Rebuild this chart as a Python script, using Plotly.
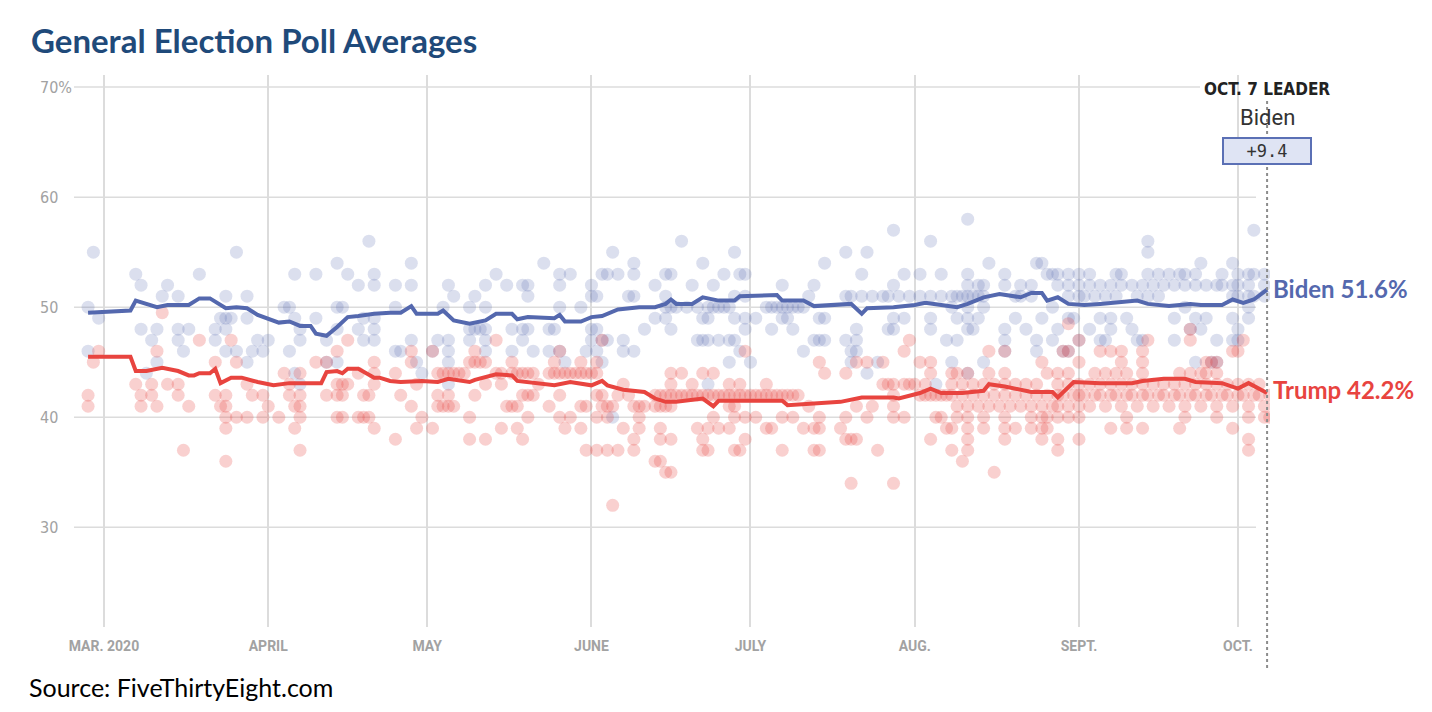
import numpy as np
import pandas as pd
import plotly.graph_objects as go

# ---------------- DATA ----------------
# days are counted from 2020-03-01 (day 0); values are percentages
base_date = "2020-03-01"
month_ticks = ["2020-03-01", "2020-04-01", "2020-05-01", "2020-06-01",
               "2020-07-01", "2020-08-01", "2020-09-01", "2020-10-01"]
month_labels = ["MAR. 2020", "APRIL", "MAY", "JUNE", "JULY", "AUG.", "SEPT.", "OCT."]
y_ticks = [70, 60, 50, 40, 30]
y_labels = ["70%", "60", "50", "40", "30"]

biden_avg_days = [-3, 5, 6, 10, 12, 16, 18, 20, 23, 25, 27, 29, 33, 35, 37, 39, 40, 42, 44, 46,
                  48, 51, 54, 56, 58, 59, 63, 64, 66, 69, 72, 74, 77, 78, 80, 85, 86, 87, 90, 92,
                  94, 97, 101, 104, 106, 107, 108, 111, 113, 116, 119, 120, 127, 128, 132, 134,
                  141, 143, 144, 149, 153, 155, 158, 161, 163, 166, 169, 173, 175, 177, 178, 180,
                  182, 185, 188, 195, 197, 201, 205, 207, 211, 213, 215, 217, 219.5]
biden_avg = [49.5, 49.7, 50.6, 50.0, 50.2, 50.2, 50.8, 50.8, 49.9, 50.0, 49.9, 49.3, 48.6, 48.7,
             48.3, 48.3, 47.6, 47.4, 48.2, 49.1, 49.2, 49.4, 49.5, 49.5, 50.1, 49.4, 49.4, 49.7,
             48.8, 48.5, 48.8, 49.4, 49.4, 48.9, 49.1, 49.0, 49.3, 48.7, 48.7, 49.1, 49.2, 49.8,
             50.0, 50.0, 50.3, 50.7, 50.3, 50.3, 50.9, 50.6, 50.6, 51.0, 51.1, 50.6, 50.6, 50.1,
             50.3, 49.4, 49.9, 50.0, 50.2, 50.4, 50.2, 50.0, 50.3, 50.9, 51.2, 50.9, 51.3, 51.3,
             50.6, 50.9, 50.3, 50.2, 50.3, 50.6, 50.3, 50.1, 50.3, 50.2, 50.2, 50.7, 50.4, 50.7,
             51.6]

trump_avg_days = [-3, 5, 6, 8, 11, 12, 14, 16, 17, 18, 20, 21, 22, 24, 26, 29, 32, 35, 37, 41,
                  42, 44, 45, 46, 48, 51, 52, 54, 56, 60, 63, 65, 69, 70, 74, 77, 78, 82, 85, 88,
                  92, 94, 95, 98, 102, 104, 106, 108, 113, 115, 116, 121, 128, 129, 133, 139, 143,
                  149, 150, 154, 156, 158, 162, 166, 167, 170, 175, 179, 180, 181, 183, 188, 194,
                  196, 200, 204, 206, 211, 214, 216, 219.5]
trump_avg = [45.5, 45.5, 44.2, 44.2, 44.5, 44.4, 44.2, 43.8, 43.8, 44.0, 44.0, 44.4, 43.1, 43.6,
             43.6, 43.2, 42.9, 43.1, 43.1, 43.1, 44.1, 44.2, 44.0, 44.4, 44.4, 43.6, 43.6, 43.3,
             43.2, 43.3, 43.2, 43.5, 43.2, 43.4, 43.9, 43.8, 43.3, 43.1, 42.9, 43.2, 42.9, 43.3,
             42.9, 42.5, 42.3, 41.7, 41.4, 41.4, 41.7, 41.0, 41.5, 41.5, 41.5, 41.1, 41.2, 41.4,
             41.8, 41.8, 41.7, 42.2, 42.6, 42.2, 42.2, 42.4, 43.0, 42.8, 42.3, 42.3, 41.8, 42.3,
             43.2, 43.1, 43.1, 43.3, 43.5, 43.5, 43.2, 43.1, 42.6, 43.1, 42.2]

# individual polls: percentage -> list of days
biden_polls = {
    58: [163],
    57: [149, 217],
    56: [50, 109, 156, 197],
    55: [-2, 25, 96, 119, 140, 144, 197],
    54: [44, 58, 83, 100, 113, 136, 167, 176, 177, 207, 213],
    53: [6, 18, 36, 40, 46, 51, 74, 86, 88, 94, 95, 97, 100, 106, 107, 117, 120, 121, 143, 151,
         154, 158, 163, 170, 178, 179, 180, 182, 184, 186, 191, 192, 197, 199, 201, 203, 204,
         206, 211, 214, 216, 217, 219],
    52: [7, 12, 48, 51, 55, 58, 65, 72, 76, 79, 80, 86, 92, 104, 111, 115, 128, 134, 149, 163,
         165, 166, 170, 173, 175, 180, 182, 184, 186, 188, 190, 192, 194, 196, 198, 200, 202,
         204, 206, 208, 210, 211, 213, 214, 216, 219],
    51: [11, 14, 23, 27, 66, 70, 80, 92, 93, 99, 100, 106, 119, 121, 133, 140, 141, 143, 145,
         147, 148, 150, 152, 154, 156, 158, 160, 161, 162, 163, 164, 165, 166, 172, 173, 175,
         182, 184, 185, 187, 189, 191, 195, 197, 199, 213, 214, 216, 217, 219],
    50: [-3, 34, 35, 44, 45, 55, 64, 69, 72, 86, 90, 106, 107, 108, 110, 112, 114, 115, 116, 117,
         118, 125, 126, 127, 128, 129, 130, 131, 132, 160, 163, 166, 179, 204, 216],
    49: [-1, 22, 23, 24, 27, 36, 40, 49, 51, 104, 106, 113, 114, 119, 121, 123, 128, 129, 135,
         136, 149, 151, 156, 161, 163, 165, 172, 177, 182, 183, 188, 190, 193, 202, 206, 208,
         213, 216],
    48: [7, 10, 14, 16, 21, 23, 37, 44, 48, 51, 69, 70, 71, 72, 77, 79, 80, 84, 85, 92, 93, 102,
         107, 121, 126, 130, 142, 148, 149, 156, 163, 164, 170, 174, 180, 186, 190, 194, 205,
         207, 214],
    47: [9, 14, 21, 29, 31, 37, 42, 49, 51, 58, 63, 65, 69, 72, 79, 92, 94, 95, 98, 112, 113,
         114, 116, 118, 119, 134, 135, 136, 140, 142, 159, 161, 170, 176, 179, 184, 188, 189,
         195, 196, 202, 210, 213, 214],
    46: [-3, 15, 23, 25, 28, 30, 35, 55, 56, 62, 65, 72, 77, 81, 84, 86, 91, 93, 98, 100, 120,
         132, 141, 142, 170, 176, 181, 182],
    45: [10, 27, 42, 44, 59, 65, 87, 94, 118, 122, 141, 146, 160, 166, 206, 209, 210],
    44: [8, 36, 60, 144, 163],
    43: [37, 65, 114, 157],
    40: [96],
}

trump_polls = {
    49.5: [11],
    48.5: [182],
    48: [205],
    47: [18, 24, 46, 74, 94, 152, 184, 197, 205, 215],
    46: [-1, 10, 44, 58, 62, 70, 86, 121, 151, 167, 170, 181, 182, 188, 190, 192, 196, 213, 214],
    45: [-2, 21, 25, 40, 42, 51, 58, 69, 70, 71, 72, 77, 85, 90, 93, 135, 142, 144, 147, 154,
         156, 177, 184, 192, 196, 208, 209, 210],
    44: [34, 37, 48, 51, 55, 63, 64, 65, 66, 67, 68, 74, 75, 77, 78, 79, 80, 81, 84, 85, 86, 87,
         88, 89, 90, 91, 92, 93, 107, 109, 113, 115, 136, 140, 156, 160, 161, 163, 167, 170, 178,
         180, 182, 187, 189, 191, 193, 196, 203, 205, 207, 208, 210],
    43: [6, 9, 12, 14, 27, 35, 44, 45, 46, 51, 59, 72, 75, 82, 98, 107, 111, 118, 120, 125, 147,
         148, 149, 151, 152, 153, 155, 160, 162, 164, 166, 168, 170, 172, 174, 176, 180, 182,
         184, 186, 188, 190, 192, 194, 196, 198, 200, 202, 204, 206, 208, 210, 212, 214, 216,
         218],
    42: [-3, 7, 9, 14, 21, 23, 28, 30, 35, 37, 42, 44, 45, 49, 50, 56, 63, 65, 70, 79, 80, 81,
         86, 93, 94, 97, 99, 104, 105, 106, 107, 108, 109, 110, 111, 112, 113, 114, 115, 116,
         117, 118, 119, 120, 121, 122, 123, 124, 125, 126, 127, 128, 129, 130, 131, 149, 154,
         155, 156, 157, 158, 159, 160, 162, 164, 166, 168, 170, 172, 174, 176, 178, 180, 181,
         183, 184, 185, 187, 188, 190, 191, 193, 194, 196, 197, 199, 200, 202, 203, 205, 206,
         208, 209, 211, 212, 214, 215, 217, 218, 220],
    41: [-3, 7, 10, 16, 22, 23, 31, 36, 37, 58, 63, 64, 65, 66, 76, 77, 78, 84, 90, 91, 94, 95,
         96, 100, 101, 102, 104, 105, 106, 107, 118, 119, 133, 142, 145, 149, 161, 163, 165,
         167, 169, 171, 173, 175, 177, 179, 180, 182, 184, 186, 189, 192, 195, 198, 201, 204,
         207, 210, 213, 216, 219],
    40: [23, 25, 27, 30, 33, 37, 44, 45, 48, 49, 50, 60, 69, 80, 86, 88, 93, 95, 101, 115, 119,
         121, 123, 128, 130, 135, 140, 144, 149, 151, 157, 158, 161, 163, 166, 170, 175, 177,
         178, 180, 182, 184, 193, 204, 210, 216, 219, 220],
    39: [23, 36, 51, 59, 62, 75, 78, 87, 90, 98, 101, 105, 112, 114, 116, 118, 125, 126, 132,
         134, 135, 139, 159, 160, 163, 166, 170, 172, 175, 177, 178, 190, 193, 196, 203, 213],
    38: [55, 69, 72, 79, 100, 105, 107, 113, 121, 140, 141, 142, 156, 163, 170, 177, 180, 184,
         216],
    37: [15, 37, 91, 93, 95, 97, 100, 113, 114, 119, 120, 128, 134, 135, 146, 160, 163, 180, 216],
    36: [23, 104, 105, 162],
    35: [106, 107, 168],
    34: [141, 149],
    32: [96],
}

# ---------------- COLOURS / STYLE ----------------
BLUE = "#5468ae"
RED = "#e8443f"
BLUE_DOT = "rgba(84,104,174,0.21)"
RED_DOT = "rgba(232,68,63,0.25)"
GRID = "#dcdcdc"
LABEL_GRAY = "#a2a2a2"
COND = "Liberation Sans Narrow, DejaVu Sans Condensed, Roboto, sans-serif"

W, H = 1432, 712
L, R, T, B = 78, 162, 75, 85
PW, PH = W - L - R, H - T - B


def px_x(px):
    return (px - L) / PW


def px_y(py):
    return (H - B - py) / PH


base = pd.Timestamp(base_date)


def to_dates(days):
    return base + pd.to_timedelta(np.asarray(days, dtype=float), unit="D")


def flatten(polls):
    d, v = [], []
    for val, days in polls.items():
        for day in days:
            d.append(day)
            v.append(val)
    return d, v


bd, bv = flatten(biden_polls)
td, tv = flatten(trump_polls)

fig = go.Figure()
fig.add_trace(go.Scatter(x=to_dates(bd), y=bv, mode="markers",
                         marker=dict(size=13, color=BLUE_DOT, line=dict(width=0)),
                         hoverinfo="skip", showlegend=False))
fig.add_trace(go.Scatter(x=to_dates(td), y=tv, mode="markers",
                         marker=dict(size=13, color=RED_DOT, line=dict(width=0)),
                         hoverinfo="skip", showlegend=False))
fig.add_trace(go.Scatter(x=to_dates(biden_avg_days), y=biden_avg, mode="lines",
                         line=dict(color=BLUE, width=4), hoverinfo="skip", showlegend=False))
fig.add_trace(go.Scatter(x=to_dates(trump_avg_days), y=trump_avg, mode="lines",
                         line=dict(color=RED, width=4), hoverinfo="skip", showlegend=False))

x_start = base - pd.Timedelta(days=4.9)
x_end = base + pd.Timedelta(days=220.05)
leader_day = to_dates([219.5])[0]

shapes = []
for yv in y_ticks:
    shapes.append(dict(type="line", xref="paper", yref="y",
                       x0=px_x(74), x1=px_x(1200 if yv == 70 else 1256), y0=yv, y1=yv,
                       line=dict(color=GRID, width=1.5), layer="below"))
shapes.append(dict(type="line", xref="x", yref="paper", x0=leader_day, x1=leader_day,
                   y0=px_y(668), y1=px_y(98), line=dict(color="#8c8c8c", width=2, dash="dot"),
                   layer="above"))

annotations = []
for yv, lab in zip(y_ticks, y_labels):
    annotations.append(dict(text=lab, xref="paper", yref="y", x=px_x(38), y=yv,
                            xanchor="left", yanchor="middle", showarrow=False,
                            font=dict(family=COND, size=16, color=LABEL_GRAY)))

annotations += [
    dict(text="<b>General Election Poll Averages</b>", xref="paper", yref="paper",
         x=px_x(29), y=px_y(40), xanchor="left", yanchor="middle", showarrow=False,
         font=dict(family="Lato, Open Sans, sans-serif", size=33, color="#1f4a7a")),
    dict(text="Source: FiveThirtyEight.com", xref="paper", yref="paper",
         x=px_x(27), y=px_y(687), xanchor="left", yanchor="middle", showarrow=False,
         font=dict(family="Lato, Open Sans, sans-serif", size=25, color="#000000")),
    dict(text="<b>OCT. 7 LEADER</b>", xref="paper", yref="paper",
         x=px_x(1267), y=px_y(89), xanchor="center", yanchor="middle", showarrow=False,
         font=dict(family=COND, size=17, color="#222222")),
    dict(text="Biden", xref="paper", yref="paper",
         x=px_x(1267), y=px_y(117), xanchor="center", yanchor="middle", showarrow=False,
         font=dict(family="Roboto, sans-serif", size=22, color="#333333")),
    dict(text="+9.4", xref="paper", yref="paper",
         x=px_x(1267), y=px_y(151), xanchor="center", yanchor="middle", showarrow=False,
         width=86, height=24, borderpad=0, bgcolor="#dfe4f4", bordercolor="#5b70b5",
         borderwidth=2, font=dict(family="DejaVu Sans Mono, monospace", size=17, color="#333333")),
    dict(text="<b>Biden 51.6%</b>", xref="paper", yref="y",
         x=px_x(1271), y=biden_avg[-1] + 0.1, xanchor="left", yanchor="middle", showarrow=False,
         font=dict(family="Lato, Roboto, sans-serif", size=24, color=BLUE)),
    dict(text="<b>Trump 42.2%</b>", xref="paper", yref="y",
         x=px_x(1271), y=trump_avg[-1] + 0.3, xanchor="left", yanchor="middle", showarrow=False,
         font=dict(family="Lato, Roboto, sans-serif", size=24, color=RED)),
]

fig.update_layout(
    width=W, height=H,
    margin=dict(l=L, r=R, t=T, b=B),
    paper_bgcolor="white", plot_bgcolor="white",
    showlegend=False,
    xaxis=dict(range=[x_start, x_end], tickvals=month_ticks, ticktext=month_labels,
               showgrid=True, gridcolor=GRID, gridwidth=1.5, zeroline=False, showline=False,
               ticks="outside", ticklen=6, tickcolor="rgba(0,0,0,0)",
               tickfont=dict(family="Roboto, sans-serif", size=14, color=LABEL_GRAY,
                             weight="bold"),
               fixedrange=True),
    yaxis=dict(range=[20.94, 71.1], showgrid=False, zeroline=False, showline=False,
               showticklabels=False, fixedrange=True),
    shapes=shapes,
    annotations=annotations,
)

fig.write_html("out.html")
